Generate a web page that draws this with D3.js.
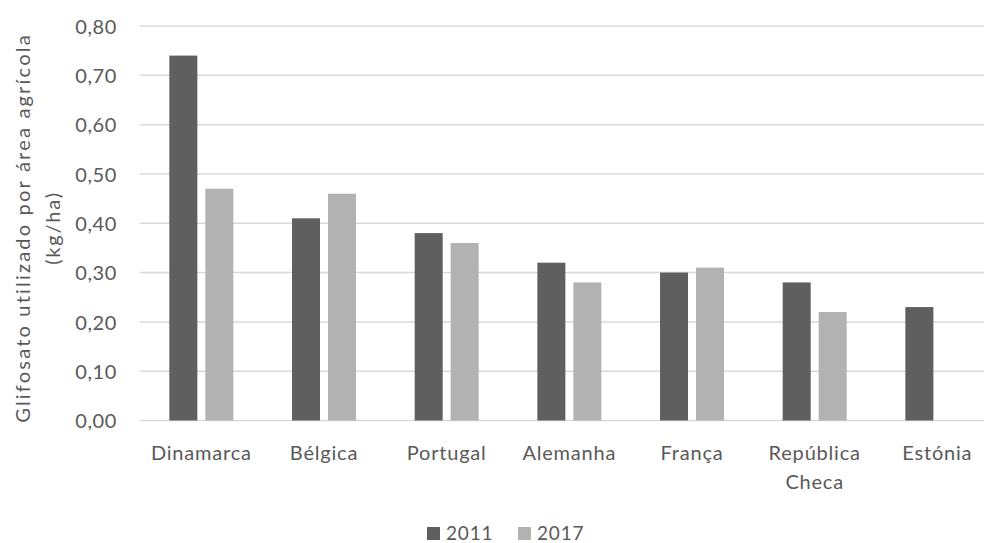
<!DOCTYPE html>
<html>
<head>
<meta charset="utf-8">
<script src="https://cdn.jsdelivr.net/npm/d3@7"></script>
<style>
  html, body { margin: 0; padding: 0; background: #fff; }
  svg text { font-family: Lato, "Open Sans", sans-serif; fill: #595959; }
</style>
</head>
<body>
<svg id="chart" width="984" height="543"></svg>
<script>
// Glyphosate use per agricultural area, 2011 vs 2017
const categories = ["Dinamarca", "Bélgica", "Portugal", "Alemanha", "França", "República Checa", "Estónia"];
const categoryLines = [["Dinamarca"], ["Bélgica"], ["Portugal"], ["Alemanha"], ["França"], ["República", "Checa"], ["Estónia"]];
const seriesNames = ["2011", "2017"];
const values2011 = [0.74, 0.41, 0.38, 0.32, 0.30, 0.28, 0.23];
const values2017 = [0.47, 0.46, 0.36, 0.28, 0.31, 0.22, null];
const yTicks = [0, 0.1, 0.2, 0.3, 0.4, 0.5, 0.6, 0.7, 0.8];
const colors = ["#5f5f5f", "#b2b2b2"];

const series = [values2011, values2017];
const rows = categories.map((c, i) => ({ cat: c, vals: series.map((s, j) => ({ key: seriesNames[j], v: s[i] })) }));

const svg = d3.select("#chart");
const plotLeft = 140, plotRight = 998.7, plotTop = 26, plotBottom = 420.5;

const x0 = d3.scaleBand().domain(categories).range([plotLeft, plotRight]).paddingInner(0).paddingOuter(0);
const groupW = 64;
const x1 = d3.scaleBand().domain(seriesNames).range([0, groupW]).paddingInner(8 / 36);
const y = d3.scaleLinear().domain([0, 0.8]).range([plotBottom, plotTop]);

const fmt = v => d3.format(".2f")(v).replace(".", ",");

// gridlines
svg.append("g").selectAll("line").data(yTicks).join("line")
  .attr("x1", plotLeft).attr("x2", plotRight)
  .attr("y1", d => y(d)).attr("y2", d => y(d))
  .attr("stroke", "#d9d9d9").attr("stroke-width", 1.5);

// y axis labels
const yAxis = d3.axisLeft(y).tickValues(yTicks).tickFormat(fmt).tickSize(0).tickPadding(0);
const yg = svg.append("g").attr("transform", `translate(117,0)`).call(yAxis);
yg.select(".domain").remove();
yg.selectAll("text").attr("font-size", 20).attr("dy", "0.36em")
  .style("font-family", "Lato, sans-serif").attr("fill", "#595959").attr("letter-spacing", 0.6);

// bars
const groups = svg.append("g").selectAll("g").data(rows).join("g")
  .attr("transform", d => `translate(${x0(d.cat) + (x0.bandwidth() - groupW) / 2},0)`);
groups.selectAll("rect").data(d => d.vals.filter(e => e.v != null)).join("rect")
  .attr("x", d => x1(d.key))
  .attr("width", x1.bandwidth())
  .attr("y", d => y(d.v))
  .attr("height", d => y(0) - y(d.v))
  .attr("fill", (d) => colors[seriesNames.indexOf(d.key)]);

// category labels
const xl = svg.append("g").selectAll("text").data(categories).join("text")
  .attr("x", d => x0(d) + x0.bandwidth() / 2)
  .attr("y", 460)
  .attr("text-anchor", "middle")
  .attr("font-size", 20)
  .attr("letter-spacing", 0.8);
xl.each(function(d, i) {
  const t = d3.select(this);
  categoryLines[i].forEach((line, k) => {
    t.append("tspan").attr("x", x0(d) + x0.bandwidth() / 2).attr("dy", k === 0 ? 0 : 29).text(line);
  });
});

// y axis title
const title = svg.append("text")
  .attr("transform", "translate(0,228) rotate(-90)")
  .attr("text-anchor", "middle")
  .attr("font-size", 20);
title.append("tspan").attr("x", 0).attr("y", 30).attr("letter-spacing", 2.2).text("Glifosato utilizado por área agrícola");
title.append("tspan").attr("x", 0).attr("y", 60).attr("letter-spacing", 1.8).text("(kg/ha)");

// legend
const legendItems = [{ name: "2011", x: 427 }, { name: "2017", x: 518 }];
const lg = svg.append("g").selectAll("g").data(legendItems).join("g")
  .attr("transform", d => `translate(${d.x},527)`);
lg.append("rect").attr("width", 13).attr("height", 13).attr("fill", (d, i) => colors[i]);
lg.append("text").attr("x", 19).attr("y", 13).attr("font-size", 19).attr("letter-spacing", 0.8).text(d => d.name);
</script>
</body>
</html>
